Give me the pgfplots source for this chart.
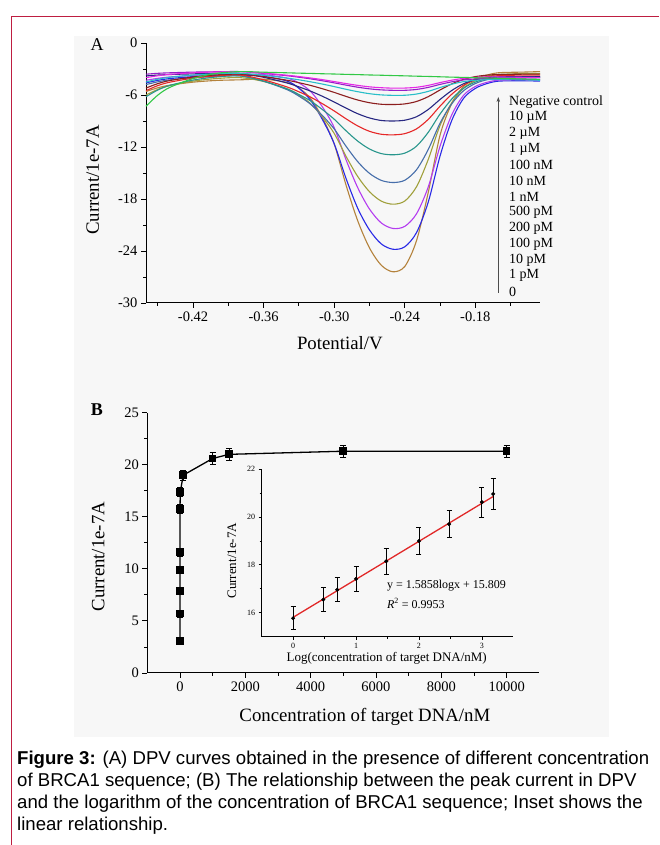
\documentclass[border=0pt]{standalone}
\usepackage{fontspec}
\setmainfont{Liberation Serif}
\newfontfamily\capfont{Liberation Sans}
\usepackage{pgfplots}
\usepackage{pgfplotstable}
\pgfplotsset{compat=1.18}
\usetikzlibrary{arrows.meta}

\definecolor{framered}{RGB}{190,30,65}
\definecolor{cNC}{RGB}{50,200,70}
\definecolor{cA}{RGB}{230,40,230}
\definecolor{cB}{RGB}{150,30,200}
\definecolor{cC}{RGB}{40,190,200}
\definecolor{cD}{RGB}{140,30,30}
\definecolor{cE}{RGB}{40,40,130}
\definecolor{cF}{RGB}{230,40,40}
\definecolor{cG}{RGB}{40,150,140}
\definecolor{cH}{RGB}{70,110,170}
\definecolor{cI}{RGB}{160,160,60}
\definecolor{cJ}{RGB}{180,60,240}
\definecolor{cK}{RGB}{40,40,230}
\definecolor{cL}{RGB}{180,130,60}
\definecolor{fitred}{RGB}{225,40,40}

% DPV curves, current in 1e-7 A
\pgfplotstableread{
x      nc     m10u   m2u    m1u    n100   n10    n1     p500   p200   p100   p10    p1     z0
-0.46  -7.30  -4.00  -3.60  -4.50  -5.20  -3.80  -5.50  -6.20  -4.80  -6.00  -4.30  -4.60  -5.60
-0.45  -6.02  -3.78  -3.50  -4.18  -4.69  -3.70  -4.92  -5.43  -4.48  -5.36  -4.08  -4.31  -5.17
-0.44  -5.14  -3.62  -3.44  -3.96  -4.34  -3.64  -4.53  -4.90  -4.26  -4.92  -3.92  -4.11  -4.87
-0.42  -4.10  -3.44  -3.36  -3.70  -3.92  -3.56  -4.06  -4.28  -4.00  -4.40  -3.74  -3.88  -4.52
-0.40  -3.50  -3.34  -3.32  -3.55  -3.68  -3.52  -3.79  -3.92  -3.85  -4.10  -3.64  -3.75  -4.32
-0.38  -3.30  -3.30  -3.30  -3.50  -3.60  -3.50  -3.70  -3.80  -3.80  -4.00  -3.60  -3.70  -4.25
-0.36  -3.37  -3.48  -3.51  -3.73  -3.88  -3.96  -4.25  -4.39  -4.41  -4.44  -3.65  -3.85  -4.18
-0.34  -3.44  -3.72  -3.78  -4.05  -4.30  -4.62  -5.08  -5.30  -5.39  -5.29  -4.06  -4.40  -4.55
-0.33  -3.48  -3.87  -3.95  -4.25  -4.58  -5.06  -5.63  -5.94  -6.13  -6.01  -4.61  -5.22  -5.19
-0.32  -3.51  -4.04  -4.14  -4.48  -4.90  -5.56  -6.25  -6.69  -7.07  -7.01  -5.59  -6.62  -6.41
-0.31  -3.55  -4.23  -4.36  -4.74  -5.28  -6.15  -7.01  -7.68  -8.37  -8.54  -7.37  -8.83  -8.63
-0.30  -3.58  -4.45  -4.60  -5.03  -5.70  -6.81  -7.84  -8.79  -9.91  -10.43 -9.75  -11.62 -11.64
-0.29  -3.62  -4.68  -4.86  -5.34  -6.16  -7.51  -8.74  -10.12 -11.90 -13.06 -13.44 -15.60 -16.36
-0.28  -3.65  -4.89  -5.10  -5.62  -6.58  -8.16  -9.57  -11.32 -13.69 -15.40 -16.69 -19.07 -20.51
-0.27  -3.69  -5.06  -5.29  -5.85  -6.89  -8.65  -10.19 -12.23 -15.04 -17.16 -19.16 -21.57 -23.64
-0.26  -3.72  -5.16  -5.41  -5.99  -7.07  -8.94  -10.53 -12.76 -15.85 -18.24 -20.76 -23.18 -25.64
-0.25  -3.76  -5.21  -5.46  -6.04  -7.10  -9.00  -10.60 -12.90 -16.10 -18.60 -21.40 -23.80 -26.40
-0.24  -3.79  -5.20  -5.46  -6.03  -7.03  -8.91  -10.46 -12.71 -15.84 -18.24 -21.16 -23.52 -25.79
-0.23  -3.83  -5.11  -5.36  -5.89  -6.75  -8.51  -9.91  -11.91 -14.63 -16.59 -19.71 -21.88 -22.81
-0.22  -3.86  -4.89  -5.12  -5.58  -6.19  -7.67  -8.81  -10.30 -12.28 -13.43 -16.60 -18.35 -17.23
-0.21  -3.90  -4.57  -4.78  -5.14  -5.42  -6.52  -7.29  -8.20  -9.25  -9.52  -11.92 -13.05 -10.64
-0.20  -3.94  -4.29  -4.48  -4.75  -4.72  -5.48  -5.91  -6.46  -7.01  -6.89  -8.28  -8.93  -6.98
-0.19  -3.97  -4.08  -4.26  -4.46  -4.20  -4.70  -4.87  -5.22  -5.51  -5.22  -6.04  -6.39  -5.01
-0.18  -4.01  -3.97  -4.15  -4.30  -3.88  -4.24  -4.25  -4.51  -4.68  -4.34  -5.02  -5.24  -4.13
-0.17  -4.04  -3.92  -4.09  -4.22  -3.71  -3.99  -3.91  -4.12  -4.23  -3.86  -4.53  -4.68  -3.70
-0.16  -4.08  -3.92  -4.10  -4.21  -3.64  -3.90  -3.77  -3.96  -4.04  -3.63  -4.29  -4.40  -3.43
-0.14  -4.15  -3.96  -4.15  -4.25  -3.60  -3.88  -3.70  -3.89  -3.99  -3.53  -4.26  -4.36  -3.36
-0.125 -4.20  -4.00  -4.20  -4.30  -3.60  -3.90  -3.70  -3.90  -4.00  -3.50  -4.30  -4.40  -3.30
}\dpv

\pgfplotsset{
  figax/.style={
    scale only axis,
    axis x line*=bottom, axis y line*=left,
    tick align=outside,
    scaled ticks=false,
    major tick length=5pt, minor tick length=3pt,
    axis line style={line width=1pt},
    every tick/.style={black, line width=0.9pt},
    tick label style={font=\fontsize{14.5}{15}\selectfont},
    label style={font=\fontsize{18.8}{19}\selectfont},
    clip=false,
  },
  dpv/.style={line width=1.1pt, smooth},
}

\begin{document}
\begin{tikzpicture}
\useasboundingbox (0,0) rectangle (659pt,845pt);
\fill[black!3] (73.5pt,108.2pt) rectangle (609pt,809.3pt);
\draw[framered, line width=1.3pt] (11.3pt,0) -- (11.3pt,828.2pt) -- (659pt,828.2pt);

% ---- panel A
\begin{axis}[figax,
  at={(146pt,542pt)}, anchor=south west,
  width=394pt, height=260pt,
  xmin=-0.46, xmax=-0.125, ymin=-30, ymax=0,
  xtick={-0.42,-0.36,-0.30,-0.24,-0.18},
  xticklabels={-0.42,-0.36,-0.30,-0.24,-0.18},
  minor xtick={-0.45,-0.39,-0.33,-0.27,-0.21,-0.15},
  ytick={-30,-24,-18,-12,-6,0},
  yticklabels={-30,-24,-18,-12,-6,0},
  minor ytick={-27,-21,-15,-9,-3},
  xlabel={Potential/V}, ylabel={Current/1e-7A},
  xlabel style={at={(axis description cs:0.492,-0.154)}, anchor=center},
  ylabel style={at={(axis description cs:-0.135,0.473)}, anchor=center},
]
\addplot[dpv, cL] table[x=x, y=z0]{\dpv};
\addplot[dpv, cK] table[x=x, y=p1]{\dpv};
\addplot[dpv, cJ] table[x=x, y=p10]{\dpv};
\addplot[dpv, cI] table[x=x, y=p100]{\dpv};
\addplot[dpv, cH] table[x=x, y=p200]{\dpv};
\addplot[dpv, cG] table[x=x, y=p500]{\dpv};
\addplot[dpv, cF] table[x=x, y=n1]{\dpv};
\addplot[dpv, cE] table[x=x, y=n10]{\dpv};
\addplot[dpv, cD] table[x=x, y=n100]{\dpv};
\addplot[dpv, cC] table[x=x, y=m1u]{\dpv};
\addplot[dpv, cB] table[x=x, y=m2u]{\dpv};
\addplot[dpv, cA] table[x=x, y=m10u]{\dpv};
\addplot[dpv, cNC] table[x=x, y=nc]{\dpv};
\end{axis}

\foreach \t [count=\i from 0] in {{Negative control},{10 µM},{2 µM},{1 µM},{100 nM},{10 nM},{1 nM},{500 pM},{200 pM},{100 pM},{10 pM},{1 pM},{0}}
  \node[anchor=west, inner sep=0, font=\fontsize{14}{14}\selectfont] at (509pt,{743.3pt-15.83pt*\i}) {\t};
\draw[-{Stealth[length=5pt,width=3.5pt]}, black!70, line width=0.7pt] (498.3pt,552pt) -- (498.3pt,748pt);
\node[font=\fontsize{18}{18}\selectfont] at (97pt,800pt) {A};
\node[font=\bfseries\fontsize{18}{18}\selectfont] at (97pt,435pt) {B};

% ---- panel B
\begin{axis}[figax,
  at={(147.3pt,172pt)}, anchor=south west,
  width=392pt, height=260.3pt,
  xmin=-1000, xmax=11000, ymin=0, ymax=25,
  xtick={0,2000,4000,6000,8000,10000},
  xticklabels={0,2000,4000,6000,8000,10000},
  minor xtick={1000,3000,5000,7000,9000},
  ytick={0,5,10,15,20,25},
  yticklabels={0,5,10,15,20,25},
  minor ytick={2.5,7.5,12.5,17.5,22.5},
  xlabel={Concentration of target DNA/nM}, ylabel={Current/1e-7A},
  xlabel style={at={(axis description cs:0.555,-0.169)}, anchor=center},
  ylabel style={at={(axis description cs:-0.125,0.447)}, anchor=center},
]
\addplot[black, line width=1.3pt, mark=square*, mark size=3.2pt,
  error bars/.cd, y dir=both, y explicit,
  error bar style={line width=0.9pt},
  error mark options={rotate=90, mark size=3pt, line width=0.9pt}]
  coordinates {
  (0.001,3.1) +- (0,0.35)
  (0.01,5.7) +- (0,0.35)
  (0.1,7.85) +- (0,0.35)
  (0.2,9.9) +- (0,0.35)
  (0.5,11.6) +- (0,0.4)
  (1,15.75) +- (0,0.4)
  (10,17.4) +- (0,0.45)
  (100,19.0) +- (0,0.5)
  (1000,20.6) +- (0,0.6)
  (1500,21.0) +- (0,0.6)
  (5000,21.3) +- (0,0.6)
  (10000,21.3) +- (0,0.6)
  };
\end{axis}

% ---- inset
\begin{axis}[figax,
  at={(261.7pt,208.3pt)}, anchor=south west,
  width=251.6pt, height=167.7pt,
  xmin=-0.5, xmax=3.5, ymin=15, ymax=22,
  major tick length=3pt, minor tick length=2pt,
  axis line style={line width=0.8pt},
  every tick/.style={black, line width=0.7pt},
  tick label style={font=\fontsize{8}{8}\selectfont},
  label style={font=\fontsize{13}{13}\selectfont},
  xtick={0,1,2,3}, xticklabels={0,1,2,3},
  minor xtick={0.5,1.5,2.5},
  ytick={16,18,20,22}, yticklabels={16,18,20,22},
  minor ytick={17,19,21},
  xlabel={Log(concentration of target DNA/nM)}, ylabel={Current/1e-7A},
  xlabel style={at={(axis description cs:0.497,-0.129)}, anchor=center},
  ylabel style={at={(axis description cs:-0.119,0.453)}, anchor=center},
]
\addplot[fitred, line width=1.3pt] coordinates {(0,15.809) (3.18,20.852)};
\addplot[only marks, black, mark=*, mark size=1.8pt,
  error bars/.cd, y dir=both, y explicit,
  error bar style={line width=0.8pt},
  error mark options={rotate=90, mark size=2.5pt, line width=0.8pt}]
  coordinates {
  (0,15.77) +- (0,0.48)
  (0.48,16.55) +- (0,0.5)
  (0.70,16.96) +- (0,0.5)
  (1.0,17.41) +- (0,0.52)
  (1.48,18.15) +- (0,0.55)
  (2.0,18.99) +- (0,0.57)
  (2.48,19.70) +- (0,0.57)
  (3.0,20.62) +- (0,0.62)
  (3.18,20.96) +- (0,0.63)
  };
\node[anchor=west, inner sep=0, font=\fontsize{12}{12}\selectfont] at (axis cs:1.49,17.12) {y = 1.5858logx + 15.809};
\node[anchor=west, inner sep=0, font=\fontsize{12}{12}\selectfont] at (axis cs:1.49,16.39) {\textit{R}\textsuperscript{2} = 0.9953};
\end{axis}

% ---- caption
\node[anchor=north west, inner sep=0, align=left, font=\capfont\fontsize{18.6}{22}\selectfont] at (17pt,94pt)
  {\textbf{Figure 3:} (A) DPV curves obtained in the presence of different concentration\\
   of BRCA1 sequence; (B) The relationship between the peak current in DPV\\
   and the logarithm of the concentration of BRCA1 sequence; Inset shows the\\
   linear relationship.};
\end{tikzpicture}
\end{document}
